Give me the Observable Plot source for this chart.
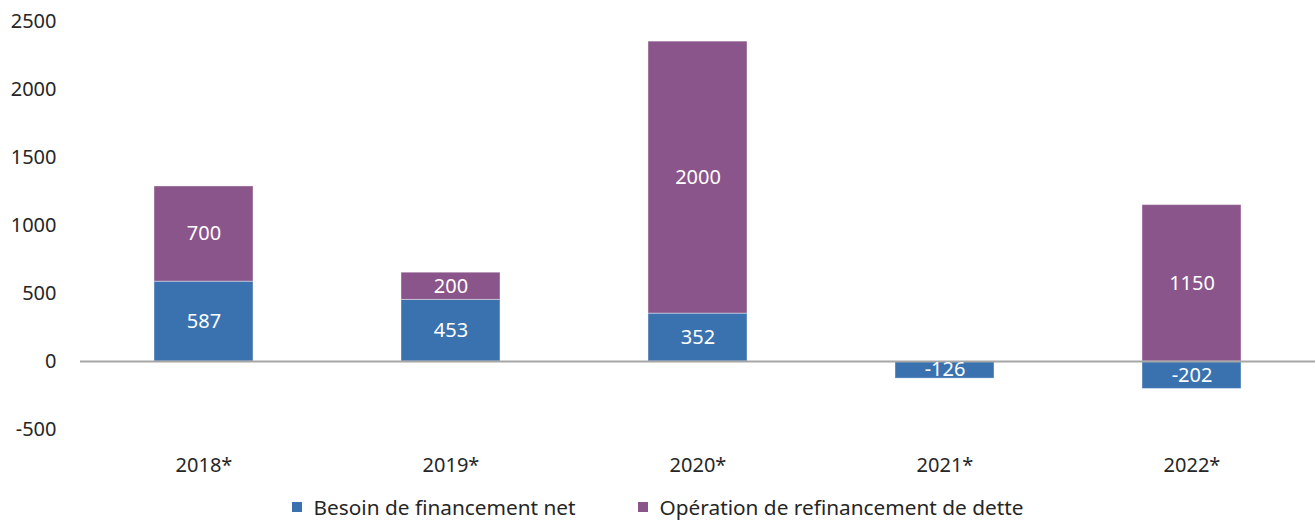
<!DOCTYPE html>
<html>
<head>
<meta charset="utf-8">
<script src="https://cdn.jsdelivr.net/npm/d3@7"></script>
<script src="https://cdn.jsdelivr.net/npm/@observablehq/plot@0.6"></script>
<style>
  body { margin: 0; background: #fff; font-family: "Source Sans Pro", "Noto Sans", sans-serif; }
  #legend { display: flex; justify-content: center; align-items: center; gap: 62px; height: 44px; font-size: 20.8px; color: #262626; }
  .item { display: flex; align-items: center; }
  .sw { width: 10px; height: 10px; margin-right: 12px; }
</style>
</head>
<body>
<div id="chart"></div>
<div id="legend"></div>
<script>
const years = ["2018*", "2019*", "2020*", "2021*", "2022*"];
const seriesNames = ["Besoin de financement net", "Opération de refinancement de dette"];
const besoin = [587, 453, 352, -126, -202];
const refinancement = [700, 200, 2000, 0, 1150];
const yTicks = [-500, 0, 500, 1000, 1500, 2000, 2500];
const colors = ["#3a72b0", "#8a558a"];

const data = [];
years.forEach((y, i) => {
  data.push({year: y, series: seriesNames[0], value: besoin[i]});
  if (refinancement[i] !== 0) data.push({year: y, series: seriesNames[1], value: refinancement[i]});
});

const chart = Plot.plot({
  width: 1315,
  height: 485,
  marginTop: 21,
  marginBottom: 56,
  marginLeft: 80,
  marginRight: 0,
  style: {fontFamily: '"Source Sans Pro", "Noto Sans", sans-serif', fontSize: "20px", color: "#262626", background: "#fff"},
  x: {domain: years, paddingInner: 0.6, paddingOuter: 0.3, label: null, tickSize: 0, tickPadding: 28},
  y: {domain: [-500, 2500], ticks: yTicks, label: null, tickSize: 0, tickPadding: 24, tickFormat: d => String(d)},
  color: {domain: seriesNames, range: colors},
  marks: [
    Plot.barY(data, {x: "year", y: "value", fill: "series", order: seriesNames, stroke: "#ffffff", strokeOpacity: 0.4, strokeWidth: 1}),
    Plot.ruleY([0], {stroke: "#a6a6a6", strokeWidth: 2}),
    Plot.text(data, Plot.stackY({x: "year", y: "value", order: seriesNames, z: "series", text: d => String(d.value), fill: "white", fontSize: 20}))
  ]
});
document.getElementById("chart").appendChild(chart);

const legend = document.getElementById("legend");
seriesNames.forEach((s, i) => {
  const it = document.createElement("div");
  it.className = "item";
  const sw = document.createElement("span");
  sw.className = "sw";
  sw.style.background = colors[i];
  const t = document.createElement("span");
  t.textContent = s;
  it.appendChild(sw); it.appendChild(t);
  legend.appendChild(it);
});
</script>
</body>
</html>
